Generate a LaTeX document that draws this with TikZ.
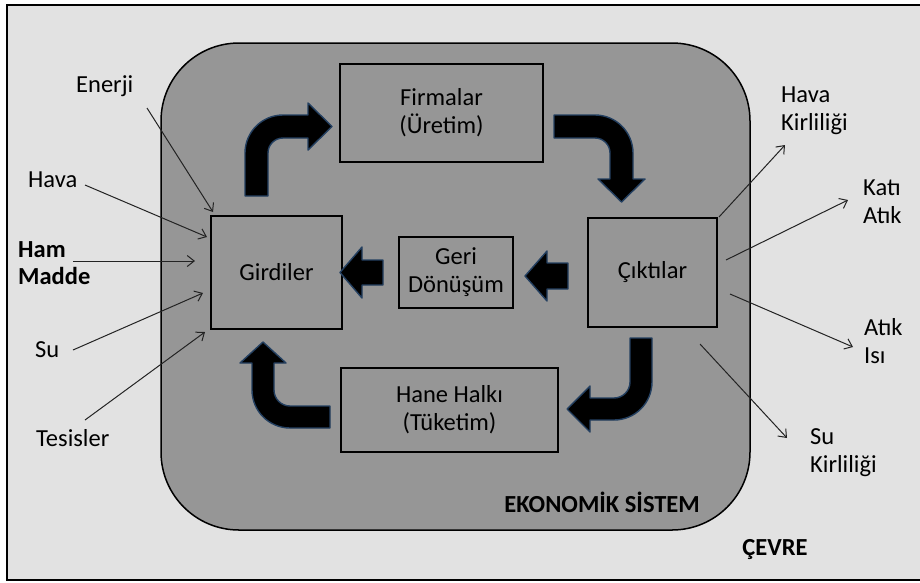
\documentclass[tikz,border=0pt]{standalone}
\usepackage{fontspec}
\setmainfont{Carlito}
\usetikzlibrary{arrows.meta}
\definecolor{cevrebg}{RGB}{226,226,226}
\definecolor{sistembg}{RGB}{150,150,150}
\definecolor{okkenar}{RGB}{36,64,97}
\definecolor{ince}{RGB}{35,35,35}

\begin{document}
\begin{tikzpicture}[x=1pt,y=-1pt,
  font=\fontsize{24.5}{28}\selectfont,
  box/.style={draw=black, line width=1.6pt, align=center, inner sep=0pt},
  etiket/.style={align=left, inner sep=0pt, anchor=base west},
  blockarrow/.style={fill=black, draw=okkenar, line width=1.4pt, line join=round},
  flow/.style={draw=ince, line width=1pt, -{Straight Barb[length=7pt,width=11pt]}}]
\useasboundingbox (0,0) rectangle (920,582);

% cevre and sistem
\draw[line width=2.2pt, fill=cevrebg] (7,5) rectangle (926,580);
\draw[line width=1.5pt, fill=sistembg, rounded corners=78pt] (161,43) rectangle (750,530);

% boxes
\node[box, minimum width=131pt, minimum height=113pt] (girdiler) at (276.5,272.5) {Girdiler};
\node[box, minimum width=203pt, minimum height=98pt] (firmalar) at (441.5,113) {Firmalar\\(Üretim)};
\node[box, minimum width=129pt, minimum height=109pt] (ciktilar) at (652.5,272.5) {Çıktılar};
\node[box, minimum width=114pt, minimum height=71pt] (geri) at (456,272.5) {Geri\\Dönüşüm};
\node[box, minimum width=217pt, minimum height=84pt] (hane) at (449.5,410) {Hane Halkı\\(Tüketim)};

% labels (base = last line)
\node[etiket] (enerji) at (76,92) {Enerji};
\node[etiket] (hava) at (28,187) {Hava};
\node[etiket, font=\fontsize{24.5}{27}\selectfont\bfseries] (hammadde) at (18,284) {Ham\\Madde};
\node[etiket] (su) at (35,357) {Su};
\node[etiket] (tesisler) at (36,446) {Tesisler};
\node[etiket] (havakir) at (781,130) {Hava\\Kirliliği};
\node[etiket] (kati) at (863,223) {Katı\\Atık};
\node[etiket] (atikisi) at (864,363) {Atık\\Isı};
\node[etiket] (sukir) at (810,472) {Su\\Kirliliği};
\node[inner sep=0pt, anchor=base east, font=\fontsize{24.5}{28}\selectfont\bfseries] (ekonomik) at (700,512) {EKONOMİK SİSTEM};
\node[inner sep=0pt, anchor=base, font=\fontsize{24.5}{28}\selectfont\bfseries] (cevre) at (775,555) {ÇEVRE};

% big arrows
\draw[blockarrow] (245,196) -- (245,153) .. controls (245,132) and (262,115) .. (283,115) -- (308,115) -- (308,103) -- (332,126.5) -- (308,150) -- (308,138) -- (283,138) .. controls (274.7,138) and (268,144.7) .. (268,153) -- (268,196) -- cycle;
\draw[blockarrow] (554,115) -- (595,115) .. controls (616,115) and (633,132) .. (633,153) -- (633,179) -- (645,179) -- (621.5,202) -- (598,179) -- (610,179) -- (610,153) .. controls (610,144.7) and (603.3,138) .. (595,138) -- (554,138) -- cycle;
\draw[blockarrow] (630,338) -- (652,338) -- (652,382) .. controls (652,403) and (635,420) .. (614,420) -- (590,420) -- (590,432) -- (567,409) -- (590,386) -- (590,398) -- (614,398) .. controls (622.8,398) and (630,390.8) .. (630,382) -- cycle;
\draw[blockarrow] (330,428) -- (290,428) .. controls (269,428) and (252,411) .. (252,390) -- (252,363) -- (240,363) -- (263,342) -- (286,363) -- (274,363) -- (274,390) .. controls (274,398.8) and (281.2,406) .. (290,406) -- (330,406) -- cycle;
\draw[blockarrow] (383,260) -- (362,260) -- (362,247) -- (340,272.5) -- (362,298) -- (362,285) -- (383,285) -- cycle;
\draw[blockarrow] (568,263) -- (547,263) -- (547,251) -- (525,276) -- (547,301) -- (547,289) -- (568,289) -- cycle;

% end points of the thin arrows
\coordinate (enerji-a) at (147,108);  \coordinate (enerji-b) at (213,212);
\coordinate (hava-a) at (85,185);     \coordinate (hava-b) at (207,237);
\coordinate (ham-a) at (73,261);      \coordinate (ham-b) at (195,261);
\coordinate (su-a) at (73,350);       \coordinate (su-b) at (203,293);
\coordinate (tesis-a) at (85,420);    \coordinate (tesis-b) at (205,332);
\coordinate (havakir-a) at (719,217); \coordinate (havakir-b) at (785,145);
\coordinate (kati-a) at (726,260);    \coordinate (kati-b) at (848,200);
\coordinate (isi-a) at (730,294);     \coordinate (isi-b) at (853,347);
\coordinate (sukir-a) at (700,344);   \coordinate (sukir-b) at (787,438);

% connections
\draw[flow] (enerji-a) -- (enerji-b);
\draw[flow] (hava-a) -- (hava-b);
\draw[flow] (ham-a) -- (ham-b);
\draw[flow] (su-a) -- (su-b);
\draw[flow] (tesis-a) -- (tesis-b);
\draw[flow] (havakir-a) -- (havakir-b);
\draw[flow] (kati-a) -- (kati-b);
\draw[flow] (isi-a) -- (isi-b);
\draw[flow] (sukir-a) -- (sukir-b);

\end{tikzpicture}
\end{document}
